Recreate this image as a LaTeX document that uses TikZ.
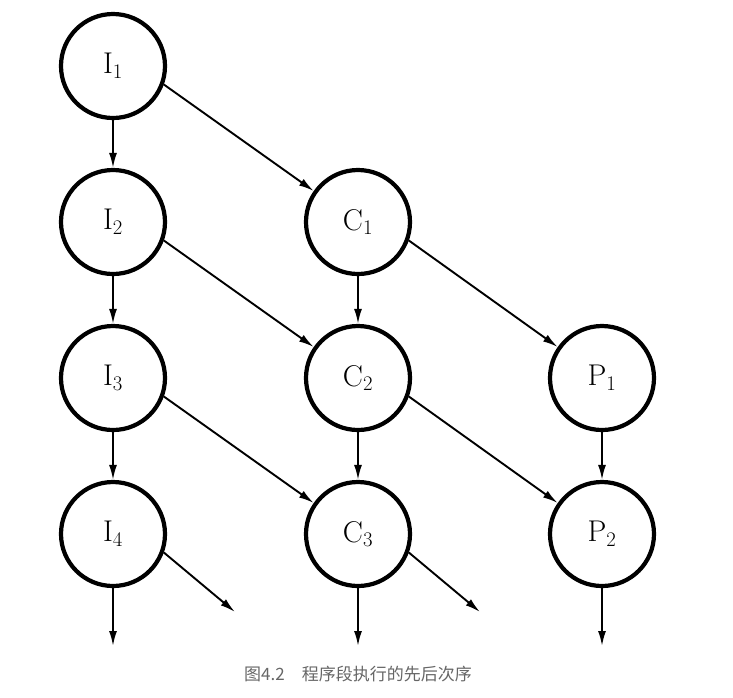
\documentclass[tikz,border=0pt]{standalone}
\usepackage{fontspec}
\newfontfamily\cjk{Noto Sans CJK SC}
\usetikzlibrary{arrows.meta}

\begin{document}
\begin{tikzpicture}[x=1pt,y=-1pt,>={Latex[length=15pt,width=8pt]},
  stage/.style={circle,draw,line width=4.2pt,minimum size=104pt,inner sep=0pt,
    font=\fontsize{30}{32}\selectfont},
  flow/.style={->,line width=1.9pt}]
  \useasboundingbox (0,0) rectangle (733,697);
  % input, compute and print stages
  \node[stage] (i1) at (113,66)  {I$_1$};
  \node[stage] (i2) at (113,222) {I$_2$};
  \node[stage] (i3) at (113,378) {I$_3$};
  \node[stage] (i4) at (113,534) {I$_4$};
  \node[stage] (c1) at (358,222) {C$_1$};
  \node[stage] (c2) at (358,378) {C$_2$};
  \node[stage] (c3) at (358,534) {C$_3$};
  \node[stage] (p1) at (602,378) {P$_1$};
  \node[stage] (p2) at (602,534) {P$_2$};
  % loose ends
  \coordinate (i5) at (113,646);
  \coordinate (c4) at (358,646);
  \coordinate (p3) at (602,646);
  \coordinate (ic) at (235,612);
  \coordinate (cp) at (480,612);
  % order of execution
  \draw[flow] (i1) -- (i2);
  \draw[flow] (i2) -- (i3);
  \draw[flow] (i3) -- (i4);
  \draw[flow] (i4) -- (i5);
  \draw[flow] (c1) -- (c2);
  \draw[flow] (c2) -- (c3);
  \draw[flow] (c3) -- (c4);
  \draw[flow] (p1) -- (p2);
  \draw[flow] (p2) -- (p3);
  \draw[flow] (i1.-20) -- (c1.145);
  \draw[flow] (i2.-20) -- (c2.145);
  \draw[flow] (i3.-20) -- (c3.145);
  \draw[flow] (i4.-20) -- (ic);
  \draw[flow] (c1.-20) -- (p1.145);
  \draw[flow] (c2.-20) -- (p2.145);
  \draw[flow] (c3.-20) -- (cp);
  \node[text=black!60,font=\cjk\fontsize{17}{20}\selectfont] (cap) at (358,674)
    {图4.2\quad 程序段执行的先后次序};
\end{tikzpicture}
\end{document}
